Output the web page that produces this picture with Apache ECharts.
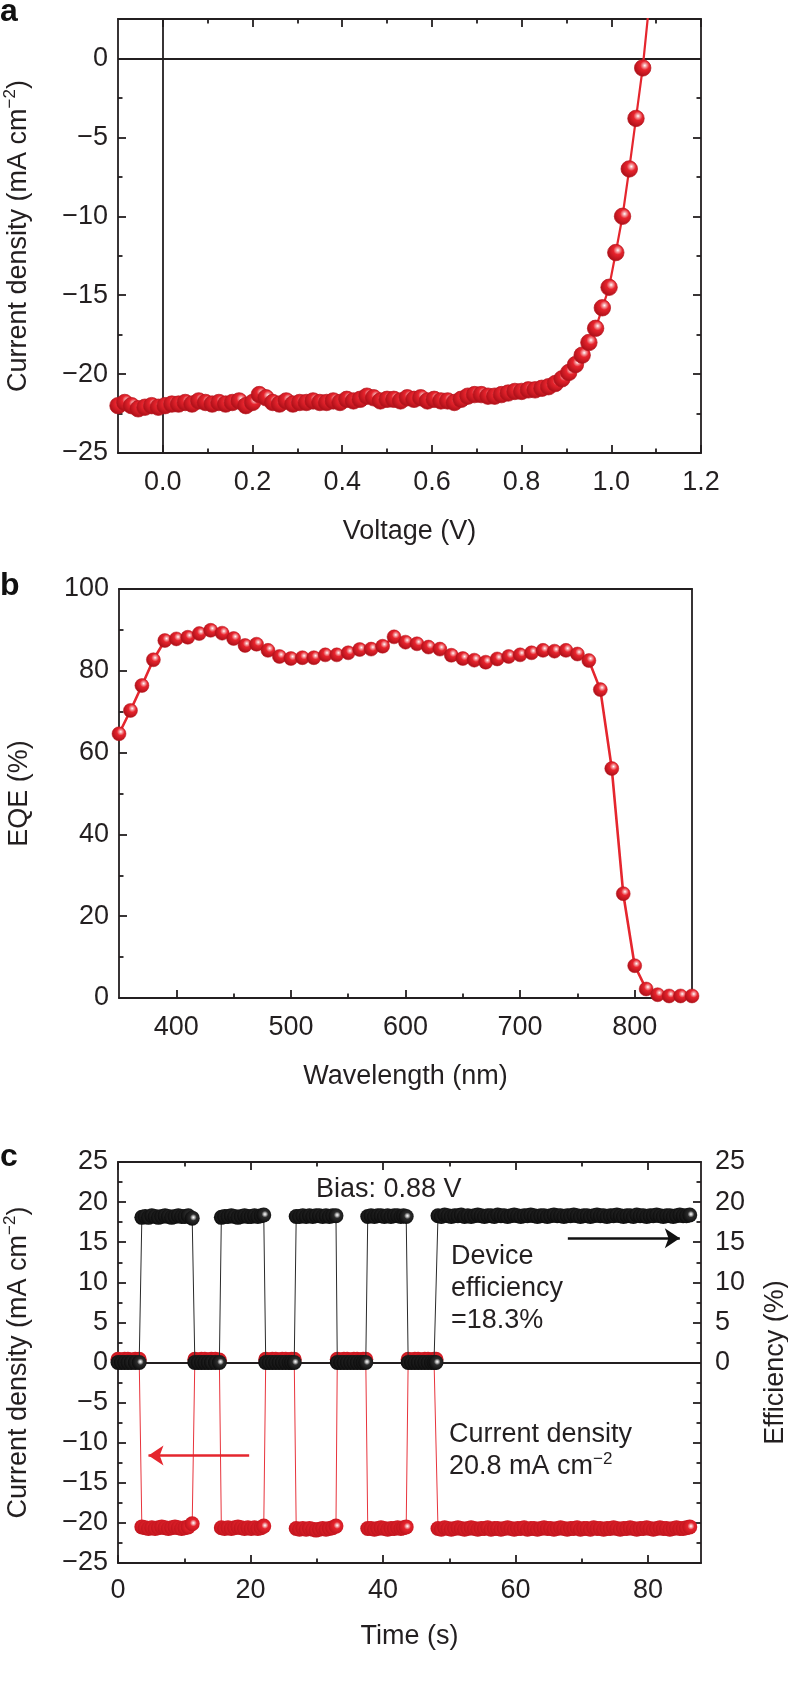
<!DOCTYPE html>
<html><head><meta charset="utf-8">
<script src="https://cdn.jsdelivr.net/npm/echarts@6/dist/echarts.min.js"></script>
<style>html,body{margin:0;padding:0;background:#fff}#c{width:788px;height:1685px}</style>
</head><body><div id="c"></div>
<script>
// ---------------- DATA ----------------
// Panel a: J-V curve
const voltage = [-0.100,-0.085,-0.070,-0.055,-0.040,-0.025,-0.010,0.005,0.020,0.035,
  0.050,0.065,0.080,0.095,0.110,0.125,0.140,0.155,0.170,0.185,
  0.200,0.215,0.230,0.245,0.260,0.275,0.290,0.305,0.320,0.335,
  0.350,0.365,0.380,0.395,0.410,0.425,0.440,0.455,0.470,0.485,
  0.500,0.515,0.530,0.545,0.560,0.575,0.590,0.605,0.620,0.635,
  0.650,0.665,0.680,0.695,0.710,0.725,0.740,0.755,0.770,0.785,
  0.800,0.815,0.830,0.845,0.860,0.875,0.890,0.905,0.920,0.935,
  0.950,0.965,0.980,0.995,1.010,1.025,1.040,1.055,1.070,1.085];
const currentA = [-22.0,-21.8,-22.0,-22.2,-22.1,-22.0,-22.1,-22.0,-21.9,-21.9,
  -21.8,-21.9,-21.7,-21.8,-21.9,-21.8,-21.9,-21.8,-21.7,-22.0,
  -21.8,-21.3,-21.5,-21.8,-21.9,-21.7,-21.9,-21.8,-21.8,-21.7,
  -21.8,-21.8,-21.7,-21.8,-21.6,-21.7,-21.6,-21.4,-21.5,-21.7,
  -21.6,-21.6,-21.7,-21.5,-21.6,-21.5,-21.7,-21.6,-21.7,-21.7,
  -21.8,-21.6,-21.4,-21.3,-21.3,-21.4,-21.4,-21.3,-21.2,-21.1,
  -21.1,-21.0,-21.0,-20.9,-20.8,-20.6,-20.3,-19.9,-19.4,-18.8,
  -18.0,-17.1,-15.8,-14.5,-12.3,-10.0,-7.0,-3.8,-0.6,3.6];

// Panel b: EQE spectrum
const wavelength = [350,360,370,380,390,400,410,420,430,440,450,460,470,480,490,500,510,520,530,540,
  550,560,570,580,590,600,610,620,630,640,650,660,670,680,690,700,710,720,730,740,
  750,760,770,780,790,800,810,820,830,840,850];
const eqe = [64.6,70.3,76.4,82.7,87.4,87.8,88.2,89.1,89.9,89.2,87.9,86.2,86.5,85.0,83.5,83.0,83.2,83.2,83.9,83.9,
  84.4,85.2,85.3,86.0,88.3,87.0,86.6,85.8,85.3,83.8,83.0,82.6,82.1,82.9,83.5,83.9,84.4,85.0,84.8,85.0,
  84.1,82.5,75.4,56.1,25.5,7.9,2.2,0.8,0.5,0.5,0.5];

// Panel c: stabilised output under 0.88 V bias (light off / on cycles)
const timeS = [
  0.0,0.5,1.0,1.5,2.0,2.6,3.2,
  3.6,4.1,4.6,5.1,5.6,6.1,6.6,7.1,7.6,8.1,8.6,9.1,9.6,10.1,10.6,11.2,
  11.6,12.1,12.6,13.1,13.6,14.1,14.7,15.3,
  15.6,16.1,16.6,17.1,17.6,18.1,18.6,19.1,19.6,20.1,20.6,21.1,21.6,22.0,
  22.3,22.8,23.3,23.8,24.3,24.8,25.3,25.8,26.2,26.6,
  26.9,27.4,27.9,28.4,28.9,29.4,29.9,30.4,30.9,31.4,31.9,32.4,32.9,
  33.1,33.6,34.1,34.6,35.1,35.6,36.1,36.6,37.0,37.4,
  37.7,38.2,38.7,39.2,39.7,40.2,40.7,41.2,41.7,42.2,42.7,43.1,43.5,
  43.8,44.3,44.8,45.3,45.8,46.3,46.8,47.3,47.7,48.0,
  48.3,48.8,49.3,49.8,50.3,50.8,51.3,51.8,52.3,52.8,
  53.3,53.8,54.3,54.8,55.3,55.8,56.3,56.8,57.3,57.8,
  58.3,58.8,59.3,59.8,60.3,60.8,61.3,61.8,62.3,62.8,
  63.3,63.8,64.3,64.8,65.3,65.8,66.3,66.8,67.3,67.8,
  68.3,68.8,69.3,69.8,70.3,70.8,71.3,71.8,72.3,72.8,
  73.3,73.8,74.3,74.8,75.3,75.8,76.3,76.8,77.3,77.8,
  78.3,78.8,79.3,79.8,80.3,80.8,81.3,81.8,82.3,82.8,
  83.3,83.8,84.3,84.8,85.3,85.8,86.3];
const efficiency = [
  0.0,0.0,0.0,0.0,0.0,0.0,0.0,
  18.1,18.2,18.1,18.3,18.2,18.1,18.2,18.3,18.2,18.1,18.2,18.3,18.2,18.2,18.3,18.0,
  0.0,0.0,0.0,0.0,0.0,0.0,0.0,0.0,
  18.1,18.2,18.2,18.3,18.2,18.1,18.2,18.3,18.2,18.2,18.3,18.2,18.3,18.4,
  0.0,0.0,0.0,0.0,0.0,0.0,0.0,0.0,0.0,0.0,
  18.2,18.2,18.3,18.2,18.3,18.2,18.3,18.3,18.2,18.3,18.2,18.3,18.3,
  0.0,0.0,0.0,0.0,0.0,0.0,0.0,0.0,0.0,0.0,
  18.2,18.3,18.2,18.3,18.3,18.2,18.3,18.2,18.3,18.3,18.2,18.3,18.2,
  0.0,0.0,0.0,0.0,0.0,0.0,0.0,0.0,0.0,0.0,
  18.3,18.2,18.4,18.3,18.2,18.3,18.3,18.4,18.2,18.3,
  18.2,18.3,18.4,18.3,18.2,18.3,18.3,18.2,18.4,18.3,
  18.3,18.2,18.3,18.4,18.3,18.2,18.3,18.3,18.4,18.3,
  18.2,18.3,18.3,18.2,18.3,18.4,18.3,18.3,18.2,18.3,
  18.3,18.4,18.3,18.2,18.3,18.3,18.2,18.3,18.4,18.3,
  18.3,18.2,18.3,18.3,18.4,18.3,18.2,18.3,18.3,18.2,
  18.4,18.3,18.3,18.2,18.3,18.3,18.4,18.3,18.2,18.3,
  18.3,18.2,18.3,18.4,18.3,18.3,18.4];
const currentC = [
  0.4,0.3,0.4,0.4,0.3,0.4,0.4,
  -20.5,-20.6,-20.7,-20.6,-20.7,-20.6,-20.5,-20.6,-20.7,-20.6,-20.5,-20.6,-20.7,-20.6,-20.5,-20.1,
  0.4,0.3,0.4,0.4,0.3,0.4,0.4,0.3,
  -20.6,-20.7,-20.6,-20.7,-20.6,-20.5,-20.6,-20.7,-20.6,-20.7,-20.6,-20.7,-20.6,-20.4,
  0.4,0.3,0.4,0.4,0.3,0.4,0.4,0.3,0.4,0.4,
  -20.7,-20.8,-20.7,-20.8,-20.7,-20.8,-20.9,-20.8,-20.7,-20.8,-20.7,-20.6,-20.4,
  0.4,0.3,0.4,0.4,0.3,0.4,0.4,0.3,0.4,0.4,
  -20.7,-20.7,-20.8,-20.7,-20.6,-20.7,-20.8,-20.7,-20.7,-20.6,-20.7,-20.6,-20.5,
  0.4,0.3,0.4,0.4,0.3,0.4,0.4,0.3,0.4,0.4,
  -20.7,-20.8,-20.6,-20.7,-20.8,-20.7,-20.6,-20.7,-20.8,-20.7,
  -20.6,-20.7,-20.8,-20.7,-20.7,-20.6,-20.8,-20.7,-20.7,-20.8,
  -20.7,-20.6,-20.7,-20.8,-20.7,-20.7,-20.6,-20.8,-20.7,-20.7,
  -20.8,-20.7,-20.6,-20.7,-20.7,-20.8,-20.7,-20.6,-20.7,-20.8,
  -20.7,-20.7,-20.6,-20.8,-20.7,-20.7,-20.8,-20.6,-20.7,-20.7,
  -20.8,-20.7,-20.7,-20.6,-20.7,-20.8,-20.7,-20.7,-20.6,-20.7,
  -20.8,-20.7,-20.7,-20.6,-20.7,-20.8,-20.7,-20.6,-20.7,-20.7,
  -20.8,-20.7,-20.6,-20.7,-20.7,-20.6,-20.5];

// Tick values
const aXTicks = [0, 0.2, 0.4, 0.6, 0.8, 1.0, 1.2];
const aXMinor = [0.1, 0.3, 0.5, 0.7, 0.9, 1.1];
const aYTicks = [-25, -20, -15, -10, -5, 0];
const aYMinor = [-22.5, -17.5, -12.5, -7.5, -2.5];
const bXTicks = [400, 500, 600, 700, 800];
const bXMinor = [450, 550, 650, 750];
const bYTicks = [0, 20, 40, 60, 80, 100];
const bYMinor = [10, 30, 50, 70, 90];
const cXTicks = [0, 20, 40, 60, 80];
const cXMinor = [10, 30, 50, 70];
const cYTicks = [-25, -20, -15, -10, -5, 0, 5, 10, 15, 20, 25];
const cYMinor = [-22.5, -17.5, -12.5, -7.5, -2.5, 2.5, 7.5, 12.5, 17.5, 22.5];
const cEffLabels = [0, 5, 10, 15, 20, 25];

// ---------------- STYLE ----------------
const FONT = '"Liberation Sans", Arial, Helvetica, sans-serif';
const INK = '#231f20';
const RED = '#e5262e';
const LW = 1.8;
const FS = 27;
const minus = v => (v < 0 ? '\u2212' + Math.abs(v) : String(v));
const supRich = {sup: {fontSize: 17, fontFamily: FONT, color: INK, verticalAlign: 'top'}};

const redSphere = {type: 'radial', x: 0.62, y: 0.36, r: 0.62, colorStops: [
  {offset: 0, color: '#ffffff'}, {offset: 0.16, color: '#f6a3a6'},
  {offset: 0.42, color: '#e7242d'}, {offset: 1, color: '#b0111a'}]};
const redSphereC = {type: 'radial', x: 0.58, y: 0.45, r: 0.58, colorStops: [
  {offset: 0, color: '#ffffff'}, {offset: 0.16, color: '#f3b0b2'},
  {offset: 0.4, color: '#e5232c'}, {offset: 1, color: '#c0141d'}]};
const blackSphere = {type: 'radial', x: 0.58, y: 0.45, r: 0.58, colorStops: [
  {offset: 0, color: '#ffffff'}, {offset: 0.16, color: '#b8b8b8'},
  {offset: 0.38, color: '#2b2b2b'}, {offset: 1, color: '#0c0c0c'}]};

const xAxes = [], yAxes = [];
function addAxes(list, grid, pos, min, max, major, minor, extra) {
  const base = {type: 'value', gridIndex: grid, position: pos, min: min, max: max,
    splitLine: {show: false}, axisPointer: {show: false}};
  const main = Object.assign({}, base, {
    axisLine: {show: true, onZero: false, lineStyle: {color: INK, width: LW}},
    axisTick: major ? {show: true, inside: true, length: 8, customValues: major,
      lineStyle: {color: INK, width: LW}} : {show: false},
    axisLabel: {show: false}
  }, extra || {});
  list.push(main);
  const idx = list.length - 1;
  if (minor) {
    list.push(Object.assign({}, base, {
      axisLine: {show: false, onZero: false},
      axisTick: {show: true, inside: true, length: 4.5, customValues: minor,
        lineStyle: {color: INK, width: LW}},
      axisLabel: {show: false}
    }));
  }
  return idx;
}
function labelStyle(values, fmt, margin) {
  return {show: true, customValues: values, formatter: fmt, margin: margin,
    fontSize: FS, color: INK, fontFamily: FONT};
}
function nameStyle() {
  return {fontSize: FS, color: INK, fontFamily: FONT, lineHeight: 34, rich: supRich};
}

// Grids (pixel layout)
const grids = [
  {left: 118, top: 19, width: 583, height: 434, outerBoundsMode: 'none', containLabel: false},
  {left: 119, top: 589, width: 573, height: 409, outerBoundsMode: 'none', containLabel: false},
  {left: 118, top: 1162, width: 583, height: 401, outerBoundsMode: 'none', containLabel: false}
];

// Panel a axes
const axA = addAxes(xAxes, 0, 'bottom', -0.1, 1.2, aXTicks, aXMinor, {
  axisLabel: labelStyle(aXTicks, v => v.toFixed(1), 16),
  name: 'Voltage (V)', nameLocation: 'middle', nameGap: 62, nameTextStyle: nameStyle()});
addAxes(xAxes, 0, 'top', -0.1, 1.2, aXTicks, aXMinor);
const ayA = addAxes(yAxes, 0, 'left', -25, 2.5, aYTicks, aYMinor, {
  axisLabel: labelStyle(aYTicks, minus, 10),
  name: 'Current density (mA cm{sup|\u22122})', nameLocation: 'middle', nameGap: 82,
  nameTextStyle: nameStyle()});
addAxes(yAxes, 0, 'right', -25, 2.5, aYTicks, aYMinor);

// Panel b axes
const axB = addAxes(xAxes, 1, 'bottom', 350, 850, bXTicks, bXMinor, {
  axisLabel: labelStyle(bXTicks, v => String(v), 16),
  name: 'Wavelength (nm)', nameLocation: 'middle', nameGap: 62, nameTextStyle: nameStyle()});
addAxes(xAxes, 1, 'top', 350, 850, null, null);
const ayB = addAxes(yAxes, 1, 'left', 0, 100, bYTicks, bYMinor, {
  axisLabel: labelStyle(bYTicks, v => String(v), 10),
  name: 'EQE (%)', nameLocation: 'middle', nameGap: 82, nameTextStyle: nameStyle()});
addAxes(yAxes, 1, 'right', 0, 100, null, null);

// Panel c axes
const axC = addAxes(xAxes, 2, 'bottom', 0, 88, cXTicks, cXMinor, {
  axisLabel: labelStyle(cXTicks, v => String(v), 14),
  name: 'Time (s)', nameLocation: 'middle', nameGap: 57, nameTextStyle: nameStyle()});
addAxes(xAxes, 2, 'top', 0, 88, cXTicks, cXMinor);
const ayC = addAxes(yAxes, 2, 'left', -25, 25, cYTicks, cYMinor, {
  axisLabel: labelStyle(cYTicks, minus, 10),
  name: 'Current density (mA cm{sup|\u22122})', nameLocation: 'middle', nameGap: 82,
  nameTextStyle: nameStyle()});
const ayCEff = addAxes(yAxes, 2, 'right', -25, 25, cYTicks, cYMinor, {
  axisLabel: labelStyle(cEffLabels, v => String(v), 14),
  name: 'Efficiency (%)', nameLocation: 'middle', nameGap: 58, nameTextStyle: nameStyle()});

const pairs = (xs, ys) => xs.map((x, i) => [x, ys[i]]);
const refLine = {silent: true, symbol: 'none', z: 1, animation: false,
  label: {show: false}, lineStyle: {color: INK, width: LW, type: 'solid'}};

const series = [
  // panel a reference lines
  {type: 'line', xAxisIndex: axA, yAxisIndex: ayA, data: [], z: 1,
    markLine: Object.assign({}, refLine, {data: [{yAxis: 0}, {xAxis: 0}]})},
  {type: 'line', xAxisIndex: axA, yAxisIndex: ayA, data: pairs(voltage, currentA), z: 3,
    symbol: 'circle', symbolSize: 16.5, clip: true,
    lineStyle: {color: RED, width: 2.2},
    itemStyle: {color: redSphere, borderColor: '#b5121b', borderWidth: 0.7}},
  // panel b
  {type: 'line', xAxisIndex: axB, yAxisIndex: ayB, data: pairs(wavelength, eqe), z: 3,
    symbol: 'circle', symbolSize: 14, clip: true,
    lineStyle: {color: RED, width: 2.6},
    itemStyle: {color: redSphere, borderColor: '#b5121b', borderWidth: 0.5}},
  // panel c zero line
  {type: 'line', xAxisIndex: axC, yAxisIndex: ayC, data: [], z: 1,
    markLine: Object.assign({}, refLine, {data: [{yAxis: 0}]})},
  {type: 'line', xAxisIndex: axC, yAxisIndex: ayC, data: pairs(timeS, currentC), z: 2,
    symbol: 'circle', symbolSize: 15, clip: true,
    lineStyle: {color: '#e8343c', width: 1},
    itemStyle: {color: redSphereC},
    markLine: {silent: true, symbol: ['none', 'arrow'], symbolSize: 15, z: 6,
      label: {show: false}, lineStyle: {color: RED, width: 2.6, type: 'solid'},
      data: [[{coord: [19.8, -11.6]}, {coord: [4.6, -11.6]}]]}},
  {type: 'line', xAxisIndex: axC, yAxisIndex: ayCEff, data: pairs(timeS, efficiency), z: 3,
    symbol: 'circle', symbolSize: 15, clip: true,
    lineStyle: {color: '#2a2a2a', width: 1},
    itemStyle: {color: blackSphere},
    markLine: {silent: true, symbol: ['none', 'arrow'], symbolSize: 15, z: 6,
      label: {show: false}, lineStyle: {color: '#111', width: 2.6, type: 'solid'},
      data: [[{coord: [67.9, 15.5]}, {coord: [84.8, 15.5]}]]}}
];

const txt = (x, y, text, extra) => ({type: 'text', x: x, y: y, z: 10, silent: true,
  style: Object.assign({text: text, fontSize: FS, fontFamily: FONT, fill: INK,
    align: 'left', verticalAlign: 'middle', rich: supRich}, extra || {})});

const graphic = [
  txt(0, 12, 'a', {fontSize: 32, fontWeight: 'bold', fill: '#111'}),
  txt(0, 586, 'b', {fontSize: 32, fontWeight: 'bold', fill: '#111'}),
  txt(0, 1157, 'c', {fontSize: 32, fontWeight: 'bold', fill: '#111'}),
  txt(316, 1190, 'Bias: 0.88 V'),
  txt(451, 1241, 'Device\nefficiency\n=18.3%', {verticalAlign: 'top', lineHeight: 32}),
  txt(449, 1419, 'Current density\n20.8 mA cm{sup|\u22122}', {verticalAlign: 'top', lineHeight: 32})
];

const chart = echarts.init(document.getElementById('c'), null, {renderer: 'canvas', width: 788, height: 1685});
chart.setOption({
  animation: false,
  backgroundColor: '#ffffff',
  textStyle: {fontFamily: FONT},
  grid: grids,
  xAxis: xAxes,
  yAxis: yAxes,
  series: series,
  graphic: graphic
});
</script></body></html>
